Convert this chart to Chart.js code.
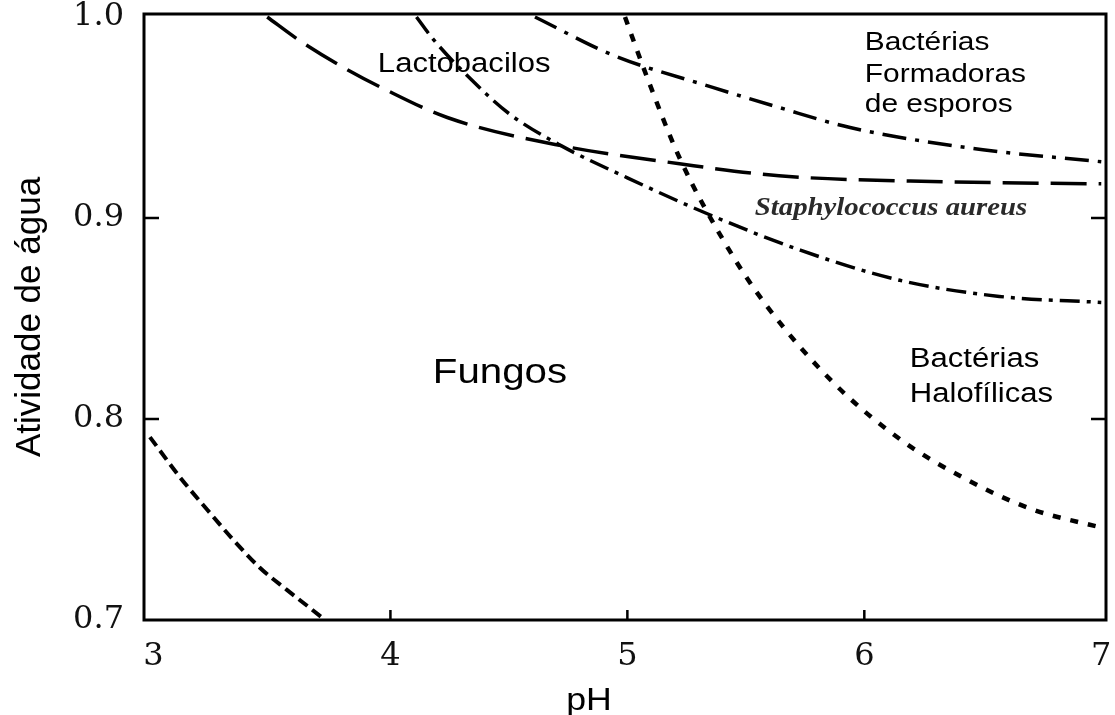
<!DOCTYPE html>
<html><head><meta charset="utf-8">
<script src="https://cdn.jsdelivr.net/npm/chart.js@4.4.1/dist/chart.umd.min.js"></script>
<style>html,body{margin:0;padding:0;background:#fff;}#wrap{width:1115px;height:715px;position:relative;}</style>
</head><body><div id="wrap"><canvas id="c"></canvas></div>
<script>
// ---- data ----
const xTicks = [3, 4, 5, 6, 7];
const xTickLabels = ['3', '4', '5', '6', '7'];
const yTicks = [0.7, 0.8, 0.9, 1.0];
const yTickLabels = ['0.7', '0.8', '0.9', '1.0'];

// lower-left short-dash boundary
const phA = [2.985, 3.112, 3.226, 3.336, 3.449, 3.563, 3.66, 3.724];
const awA = [0.791, 0.771, 0.755, 0.740, 0.726, 0.715, 0.706, 0.700];
// long-dash boundary (Lactobacilos)
const phB = [3.48, 3.62, 3.83, 3.96, 4.24, 4.72, 5.22, 5.64, 6.36, 7.0];
const awB = [1.0, 0.988, 0.973, 0.965, 0.950, 0.936, 0.927, 0.921, 0.918, 0.917];
// dash-dot boundary (Staphylococcus aureus)
const phC = [4.11, 4.18, 4.34, 4.5, 4.72, 5.0, 5.34, 5.73, 6.15, 6.57, 7.0];
const awC = [1.0, 0.989, 0.969, 0.952, 0.936, 0.920, 0.902, 0.884, 0.869, 0.861, 0.858];
// upper dash-dot boundary (Bactérias formadoras de esporos)
const phD = [4.61, 4.94, 5.36, 5.64, 5.94, 6.5, 7.0];
const awD = [1.0, 0.981, 0.965, 0.955, 0.945, 0.934, 0.928];
// dotted boundary (Bactérias halofílicas)
const phE = [4.99, 5.08, 5.22, 5.43, 5.59, 5.87, 6.15, 6.43, 6.71, 7.0];
const awE = [1.0, 0.971, 0.930, 0.884, 0.856, 0.818, 0.790, 0.770, 0.755, 0.746];

const xTitle = 'pH';
const yTitle = 'Atividade de água';

// text labels placed in data coordinates (left edge, baseline)
const notes = [
  {text: 'Lactobacilos', x: 3.947, y: 0.9726, font: '27px "Liberation Sans"'},
  {text: 'Bactérias', x: 6.002, y: 0.9836, font: '26px "Liberation Sans"'},
  {text: 'Formadoras', x: 6.002, y: 0.9677, font: '26px "Liberation Sans"'},
  {text: 'de esporos', x: 6.002, y: 0.9527, font: '26px "Liberation Sans"'},
  {text: 'Staphylococcus aureus', x: 5.538, y: 0.9015, font: 'italic bold 25px "Liberation Serif"', color: '#2a2a2a'},
  {text: 'Fungos', x: 4.179, y: 0.8179, font: '35px "Liberation Sans"'},
  {text: 'Bactérias', x: 6.192, y: 0.8259, font: '27px "Liberation Sans"'},
  {text: 'Halofílicas', x: 6.192, y: 0.8085, font: '27px "Liberation Sans"'}
];

const pts = (xs, ys) => xs.map((x, i) => ({x: x, y: ys[i]}));
function ds(label, xs, ys, dash, w) {
  return {label: label, data: pts(xs, ys), borderColor: '#000', borderWidth: w,
    borderDash: dash, borderCapStyle: 'butt', pointRadius: 0, fill: false,
    cubicInterpolationMode: 'monotone'};
}

const STRETCH = 1.15;
const framePlugin = {
  id: 'frame',
  afterDatasetsDraw(chart) {
    const {ctx, chartArea: a, scales: {x, y}} = chart;
    ctx.save();
    ctx.strokeStyle = '#000';
    ctx.lineWidth = 3;
    ctx.strokeRect(a.left, a.top, a.right - a.left, a.bottom - a.top);
    const L = 10;
    ctx.lineWidth = 2.5;
    ctx.beginPath();
    yTicks.forEach(v => {
      if (v <= y.min + 1e-9 || v >= 1.0 - 1e-9) return;
      const py = y.getPixelForValue(v);
      ctx.moveTo(a.left, py); ctx.lineTo(a.left + L + 5, py);
      ctx.moveTo(a.right, py); ctx.lineTo(a.right - L - 5, py);
    });
    xTicks.forEach(v => {
      if (v === xTicks[0] || v === xTicks[xTicks.length - 1]) return;
      const px = x.getPixelForValue(v);
      ctx.moveTo(px, a.bottom); ctx.lineTo(px, a.bottom - L);
    });
    ctx.stroke();
    // text labels
    ctx.textAlign = 'left';
    ctx.textBaseline = 'alphabetic';
    notes.forEach(n => {
      ctx.font = n.font;
      ctx.fillStyle = n.color || '#000';
      ctx.save();
      ctx.translate(x.getPixelForValue(n.x), y.getPixelForValue(n.y));
      ctx.scale(STRETCH, 1);
      ctx.fillText(n.text, 0, 0);
      ctx.restore();
    });
    // x axis title
    ctx.font = '31px "Liberation Sans"';
    ctx.fillStyle = '#000';
    ctx.textAlign = 'center';
    ctx.save();
    ctx.translate(589, 710);
    ctx.scale(STRETCH, 1);
    ctx.fillText(xTitle, 0, 0);
    ctx.restore();
    ctx.restore();
  }
};

new Chart(document.getElementById('c'), {
  type: 'line',
  data: {
    datasets: [
      ds('A', phA, awA, [11, 6], 4),
      ds('Lactobacilos', phB, awB, [36, 12], 3.5),
      ds('Staphylococcus aureus', phC, awC, [20, 7, 4, 7], 3.5),
      ds('Bactérias formadoras de esporos', phD, awD, [24, 9, 4, 9], 3.5),
      ds('Bactérias halofílicas', phE, awE, [8, 10], 4.5)
    ]
  },
  options: {
    responsive: true, maintainAspectRatio: false, animation: false, devicePixelRatio: 1,
    layout: {padding: {top: 14, right: 9, left: 0, bottom: 0}},
    plugins: {legend: {display: false}, tooltip: {enabled: false}},
    scales: {
      x: {
        type: 'linear', min: 2.96, max: 7.02,
        grid: {display: false, drawTicks: false}, border: {display: false},
        afterBuildTicks: s => { s.ticks = xTicks.map(v => ({value: v})); },
        afterFit: s => { s.height = 95; s.paddingLeft = 0; s.paddingRight = 0; s.paddingTop = 0; s.paddingBottom = 0; },
        ticks: {
          padding: 17, color: '#111', maxRotation: 0, autoSkip: false,
          font: {family: '"DejaVu Serif"', size: 32, lineHeight: 1.2},
          callback: v => { const i = xTicks.indexOf(v); return i >= 0 ? xTickLabels[i] : ''; }
        }
      },
      y: {
        type: 'linear', min: 0.7, max: 1.0015,
        grid: {display: false, drawTicks: false}, border: {display: false},
        afterBuildTicks: s => { s.ticks = yTicks.map(v => ({value: v})); },
        afterFit: s => { s.width = 144; s.paddingTop = 0; s.paddingBottom = 0; s.paddingLeft = 0; s.paddingRight = 0; },
        title: {display: true, text: yTitle, color: '#000',
          font: {family: '"Liberation Sans"', size: 35, lineHeight: 1.2}, padding: {top: 9, bottom: 0}},
        ticks: {
          padding: 20, color: '#111', autoSkip: false,
          font: {family: '"DejaVu Serif"', size: 32, lineHeight: 1.2},
          callback: v => { const i = yTicks.findIndex(t => Math.abs(t - v) < 1e-9); return i >= 0 ? yTickLabels[i] : ''; }
        }
      }
    }
  },
  plugins: [framePlugin]
});
</script>
</body></html>
